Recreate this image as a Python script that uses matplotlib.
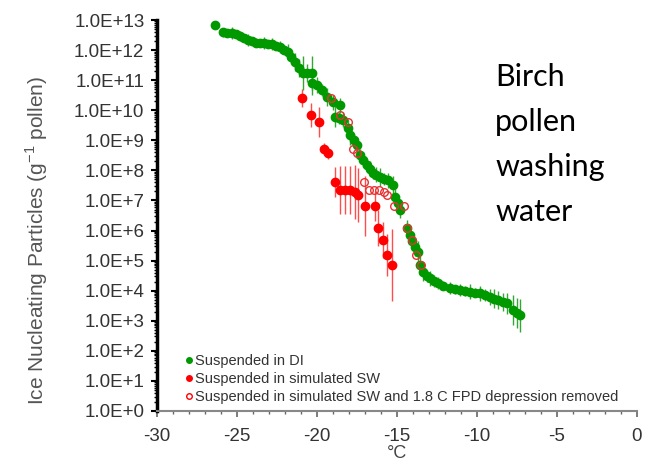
import numpy as np
import matplotlib.pyplot as plt
from matplotlib.lines import Line2D
from matplotlib.ticker import FuncFormatter, MultipleLocator, LogLocator, NullFormatter

plt.rcParams['axes.unicode_minus'] = False

# Suspended in DI (temperature in C, log10 of INP per g pollen, error in decades)
di_temp = [-26.38, -25.88, -25.6, -25.31, -25.05, -24.81, -24.55, -24.31, -24.05, -23.81,
           -23.55, -23.31, -23.05, -22.81, -22.55, -22.31, -22.05, -21.81, -21.6, -21.38,
           -21.1, -20.88, -20.6, -20.31, -20.31, -20.0, -19.69, -19.38, -19.0, -18.56,
           -18.88, -18.6, -18.38, -18.06, -17.94, -17.7, -17.5, -17.31, -17.1, -16.88,
           -16.7, -16.5, -16.3, -16.06, -15.8, -15.56, -15.25, -15.13, -14.95, -14.81,
           -14.38, -14.2, -14.06, -13.85, -13.69, -13.56, -13.38, -13.15, -12.94, -12.7,
           -12.44, -12.1, -11.69, -11.4, -11.06, -10.75, -10.44, -10.1, -9.81, -9.5,
           -9.19, -8.95, -8.69, -8.4, -8.13, -7.75, -7.5, -7.31]
di_log = [12.83, 12.60, 12.58, 12.57, 12.52, 12.47, 12.40, 12.34, 12.29, 12.24,
          12.24, 12.24, 12.22, 12.20, 12.15, 12.10, 12.02, 11.94, 11.78, 11.60,
          11.40, 11.24, 11.24, 11.24, 10.91, 10.84, 10.67, 10.44, 10.27, 10.17,
          9.78, 9.74, 9.68, 9.41, 9.18, 9.00, 8.84, 8.51, 8.35, 8.18,
          8.05, 7.91, 7.85, 7.78, 7.72, 7.68, 7.51, 7.12, 6.90, 6.68,
          6.09, 5.85, 5.65, 5.45, 5.29, 4.86, 4.62, 4.50, 4.42, 4.33,
          4.26, 4.16, 4.09, 4.05, 4.02, 3.99, 3.96, 3.94, 3.92, 3.85,
          3.79, 3.74, 3.69, 3.64, 3.59, 3.36, 3.25, 3.19]
di_err = [0.1, 0.15, 0.1, 0.2, 0.1, 0.15, 0.1, 0.2, 0.1, 0.15,
          0.1, 0.2, 0.1, 0.2, 0.1, 0.2, 0.15, 0.25, 0.2, 0.3,
          0.3, 0.55, 0.3, 0.55, 0.4, 0.25, 0.2, 0.3, 0.25, 0.25,
          0.35, 0.2, 0.25, 0.3, 0.35, 0.2, 0.25, 0.2, 0.25, 0.2,
          0.25, 0.2, 0.25, 0.3, 0.2, 0.25, 0.3, 0.25, 0.2, 0.25,
          0.25, 0.2, 0.3, 0.3, 0.35, 0.3, 0.3, 0.2, 0.25, 0.2,
          0.2, 0.15, 0.2, 0.15, 0.2, 0.15, 0.25, 0.15, 0.25, 0.2,
          0.25, 0.3, 0.3, 0.3, 0.35, 0.5, 0.5, 0.55]

# Suspended in simulated SW
sw_temp = [-20.94, -20.38, -19.88, -19.56, -19.31, -18.88, -18.56, -18.25, -17.94, -17.63,
           -17.44, -17.0, -16.38, -16.19, -15.88, -15.63, -15.31]
sw_log = [10.41, 9.84, 9.61, 8.71, 8.58, 7.61, 7.35, 7.35, 7.35, 7.28,
          7.18, 6.82, 6.82, 6.09, 5.69, 5.19, 4.86]
sw_err = [0.3, 0.4, 0.5, 0.2, 0.2, 0.5, 0.8, 0.8, 0.8, 0.9,
          0.9, 1.0, 0.5, 0.6, 0.6, 0.7, 1.2]

# Suspended in simulated SW, 1.8 C freezing point depression removed
swc_temp = [-19.14, -18.58, -18.08, -17.76, -17.51, -17.08, -16.76, -16.45, -16.14, -15.83,
            -15.64, -15.2, -14.58, -14.39, -14.08, -13.83, -13.51]
swc_log = sw_log

legend_labels = ['Suspended in DI', 'Suspended in simulated SW',
                 'Suspended in simulated SW and 1.8 C FPD depression removed']

green = '#009900'
red = '#ff0000'

fig = plt.figure(figsize=(6.54, 4.61), dpi=100)
ax = fig.add_axes([0.24, 0.1085, 0.734, 0.848])


def plot_series(temps, logs, errs, **kw):
    y = 10 ** np.array(logs)
    lo = y - 10 ** (np.array(logs) - np.array(errs))
    hi = 10 ** (np.array(logs) + np.array(errs)) - y
    return ax.errorbar(temps, y, yerr=[lo, hi], **kw)


plot_series(di_temp, di_log, di_err, fmt='o', color=green, ms=6, mec=green,
            ecolor=(0.2, 0.65, 0.2), elinewidth=1.0, capsize=0, zorder=2)
plot_series(sw_temp, sw_log, sw_err, fmt='o', color=red, ms=6, mec=red,
            ecolor=(1, 0.3, 0.3), elinewidth=1.0, capsize=0, zorder=3)
ax.plot(swc_temp, 10 ** np.array(swc_log), 'o', mfc='none', mec=(0.9, 0.2, 0.2),
        mew=1.0, ms=5.5, zorder=4)

ax.set_yscale('log')
ax.set_xlim(-30, 0)
ax.set_ylim(1, 1e13)

ax.yaxis.set_major_locator(LogLocator(base=10, numticks=20))
ax.yaxis.set_minor_locator(LogLocator(base=10, subs=np.arange(2, 10), numticks=20))
ax.yaxis.set_minor_formatter(NullFormatter())
ax.yaxis.set_major_formatter(FuncFormatter(lambda v, p: '1.0E+%d' % round(np.log10(v))))
ax.xaxis.set_major_locator(MultipleLocator(5))
ax.xaxis.set_minor_locator(MultipleLocator(1))

for s in ['top', 'right']:
    ax.spines[s].set_visible(False)
ax.spines['left'].set_linewidth(2.5)
ax.spines['left'].set_color('black')
ax.spines['bottom'].set_color('#888888')
ax.spines['bottom'].set_linewidth(1.5)

ax.tick_params(axis='y', which='major', direction='out', length=4, width=1.5,
               labelsize=13.5, labelcolor='#333333', pad=5)
ax.tick_params(axis='y', which='minor', direction='out', length=2.5, width=1)
ax.tick_params(axis='x', which='major', direction='out', length=4, width=1.2,
               color='#666666', labelsize=13.5, labelcolor='#333333', pad=8)
ax.tick_params(axis='x', which='minor', direction='out', length=2.5, width=1,
               color='#666666')

for lab in ax.get_xticklabels() + ax.get_yticklabels():
    lab.set_family('Liberation Sans')

ax.set_xlabel('°C', fontsize=13, color='#444444', family='Liberation Sans', labelpad=0)
ax.set_ylabel('Ice Nucleating Particles (g$^{\\mathregular{-1}}$ pollen)', fontsize=15,
              color='#555555', family='Liberation Sans')
ax.yaxis.set_label_coords(-0.222, 0.437)

handles = [Line2D([], [], marker='o', ls='none', color=green, ms=4),
           Line2D([], [], marker='o', ls='none', color=red, ms=4),
           Line2D([], [], marker='o', ls='none', mfc='none', mec=red, mew=1, ms=4)]
leg = ax.legend(handles, legend_labels, loc='lower left',
                bbox_to_anchor=(0.045, 0.0), frameon=False,
                handlelength=0.5, handletextpad=0.15, labelspacing=0.25,
                borderaxespad=0.1,
                prop={'family': 'Liberation Sans', 'size': 10.5})
for t in leg.get_texts():
    t.set_color('#333333')

title_lines = ['Birch', 'pollen', 'washing', 'water']
for i, line in enumerate(title_lines):
    fig.text(495 / 654, 1 - (86 + 45 * i) / 461, line, fontsize=22, family='Lato',
             va='baseline', ha='left', color='black')

fig.savefig('out.png', dpi=100)
